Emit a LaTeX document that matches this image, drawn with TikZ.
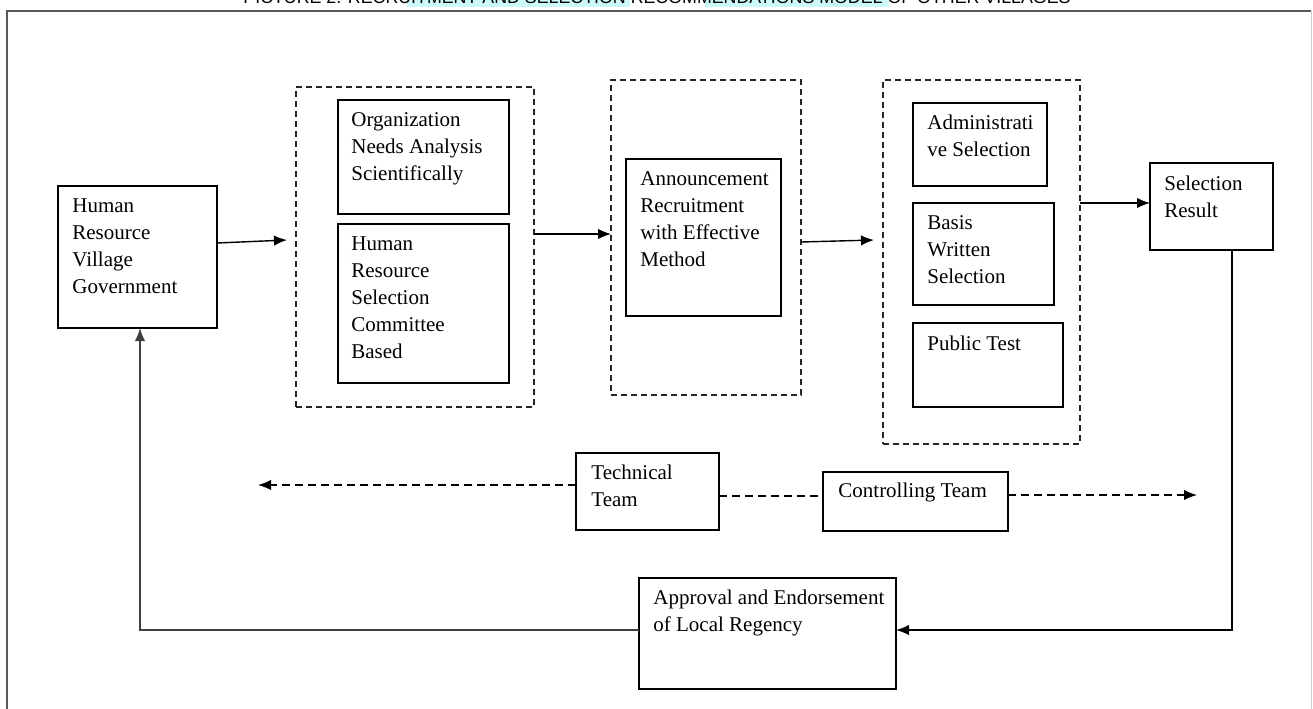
\documentclass[tikz,border=0pt]{standalone}
\usepackage{fontspec}
\setmainfont{Liberation Serif}
\newfontfamily\titlefont{Liberation Sans}
\usetikzlibrary{arrows.meta}
\definecolor{hilite}{RGB}{204,250,250}
\begin{document}
\begin{tikzpicture}[x=0.5pt,y=-0.5pt,
  solidbox/.style={draw=black,line width=0.7pt,inner sep=0pt,outer sep=0pt,anchor=north west},
  groupbox/.style={draw=black!85,line width=0.75pt,dash pattern=on 3pt off 2pt,inner sep=0pt,outer sep=0pt,anchor=north west},
  txt/.style={anchor=north west,inner sep=0pt,align=left,font=\fontsize{10.5pt}{13.5pt}\selectfont},
  flow/.style={line width=0.7pt,-{Latex[length=6.5pt,width=5.2pt]}},
  dflow/.style={flow,dash pattern=on 4pt off 2.5pt},
  dline/.style={line width=0.7pt,dash pattern=on 4pt off 2.5pt},
]
\useasboundingbox (0,0) rectangle (1313,708);

% caption strip above the frame
\fill[hilite] (407,-14) rectangle (630,7);
\fill[hilite] (705,-14) rectangle (889,7);
\node[font=\titlefont\fontsize{8.9pt}{10pt}\selectfont,anchor=base,inner sep=0pt] (title) at (657,3)
  {PICTURE 2. RECRUITMENT AND SELECTION RECOMMENDATIONS MODEL OF OTHER VILLAGES};

% outer frame
\draw[line width=0.8pt,black!65] (7,712) -- (7,11) -- (1311,11);
\draw[line width=0.5pt,black!20] (1311,11) -- (1311,712);

% human resource of the village
\node[solidbox,minimum width=79.5pt,minimum height=71pt] (hr) at (58,186) {};
\node[txt] (hr-t) at (72,198) {Human\\Resource\\Village\\Government};

% group 1: analysis and committee
\node[groupbox,minimum width=119pt,minimum height=160pt] (g1) at (296,87) {};
\node[solidbox,minimum width=85.5pt,minimum height=57pt] (org) at (338,100) {};
\node[txt] (org-t) at (351,112) {Organization\\Needs Analysis\\Scientifically};
\node[solidbox,minimum width=85.5pt,minimum height=79.5pt] (sel) at (338,224) {};
\node[txt] (sel-t) at (351,236) {Human\\Resource\\Selection\\Committee\\Based};

% group 2: announcement
\node[groupbox,minimum width=95pt,minimum height=157.5pt] (g2) at (611,80) {};
\node[solidbox,minimum width=77.5pt,minimum height=78.5pt] (ann) at (626,159) {};
\node[txt] (ann-t) at (640,171) {Announcement\\Recruitment\\with Effective\\Method};

% group 3: selection stages
\node[groupbox,minimum width=98.5pt,minimum height=182pt] (g3) at (883,80) {};
\node[solidbox,minimum width=67pt,minimum height=41.5pt] (adm) at (913,103) {};
\node[txt] (adm-t) at (927,115) {Administrati\\ve Selection};
\node[solidbox,minimum width=70.5pt,minimum height=51pt] (bas) at (913,203) {};
\node[txt] (bas-t) at (927,215) {Basis\\Written\\Selection};
\node[solidbox,minimum width=75pt,minimum height=42pt] (pub) at (913,323) {};
\node[txt] (pub-t) at (927,336) {Public Test};

% result
\node[solidbox,minimum width=61.5pt,minimum height=43.5pt] (res) at (1150,163) {};
\node[txt] (res-t) at (1164,176) {Selection\\Result};

% supervising teams
\node[solidbox,minimum width=71.5pt,minimum height=38.5pt] (tech) at (576,453) {};
\node[txt] (tech-t) at (591,465) {Technical\\Team};
\node[solidbox,minimum width=92.5pt,minimum height=29.5pt] (ctrl) at (823,472) {};
\node[txt] (ctrl-t) at (838,483) {Controlling Team};

% approval
\node[solidbox,minimum width=128.5pt,minimum height=55.5pt] (appr) at (639,578) {};
\node[txt] (appr-t) at (653,590) {Approval and Endorsement\\of Local Regency};

% free ends of connectors
\coordinate (e1) at (287,240);
\coordinate (e3) at (874,240);
\coordinate (tl) at (258,485);
\coordinate (tr) at (1197,495);

% main flow
\draw[flow] ([yshift=-28.5pt]hr.north east) -- (e1);
\draw[flow] ([yshift=-73.5pt]g1.north east) -- ([yshift=-77pt]g2.north west);
\draw[flow] ([yshift=-81pt]g2.north east) -- (e3);
\draw[flow] ([yshift=-61.5pt]g3.north east) coordinate (s4) -- (s4 -| res.west);
\draw[flow] ([xshift=10.25pt]res.south) |- ([yshift=1.75pt]appr.east);
\draw[flow,black!75] ([yshift=1.75pt]appr.west) -| ([xshift=1.25pt]hr.south);

% team lines
\draw[dflow] ([yshift=3.25pt]tech.west) -- (tl);
\draw[dline] ([yshift=-2.25pt]tech.east) -- ([yshift=-2.25pt]tech.east -| ctrl.west);
\draw[dflow] ([yshift=3.25pt]ctrl.east) -- (tr);
\end{tikzpicture}
\end{document}
